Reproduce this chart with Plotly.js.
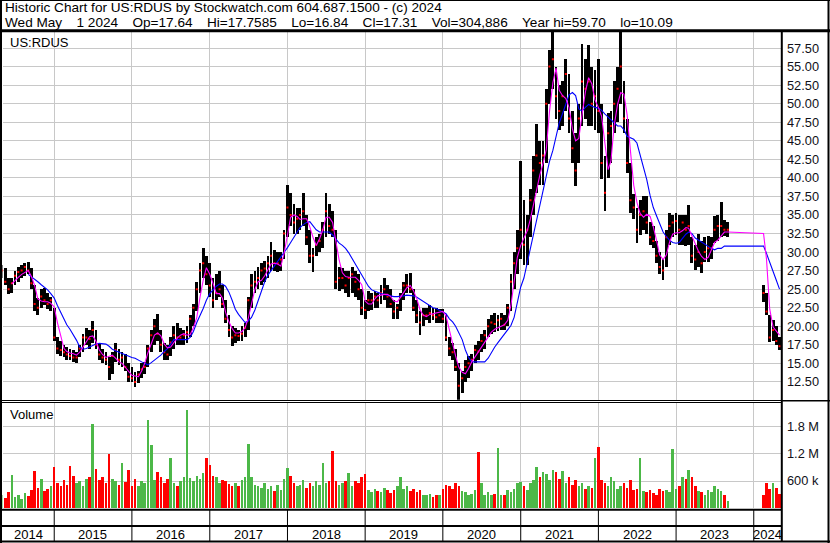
<!DOCTYPE html>
<html><head><meta charset="utf-8">
<script src="https://cdn.plot.ly/plotly-3.0.1.min.js"></script>
<style>html,body{margin:0;padding:0;background:#fff;overflow:hidden}#chart{width:830px;height:543px}</style>
</head><body><div id="chart"></div>
<script>
// ---- data (semi-monthly samples) ----
const dates = [
'2014-05-01','2014-05-16','2014-06-01','2014-06-16','2014-07-01','2014-07-16','2014-08-01','2014-08-16','2014-09-01','2014-09-16','2014-10-01','2014-10-16','2014-11-01','2014-11-16','2014-12-01','2014-12-16',
'2015-01-01','2015-01-16','2015-02-01','2015-02-16','2015-03-01','2015-03-16','2015-04-01','2015-04-16','2015-05-01','2015-05-16','2015-06-01','2015-06-16','2015-07-01','2015-07-16','2015-08-01','2015-08-16','2015-09-01','2015-09-16','2015-10-01','2015-10-16','2015-11-01','2015-11-16','2015-12-01','2015-12-16',
'2016-01-01','2016-01-16','2016-02-01','2016-02-16','2016-03-01','2016-03-16','2016-04-01','2016-04-16','2016-05-01','2016-05-16','2016-06-01','2016-06-16','2016-07-01','2016-07-16','2016-08-01','2016-08-16','2016-09-01','2016-09-16','2016-10-01','2016-10-16','2016-11-01','2016-11-16','2016-12-01','2016-12-16',
'2017-01-01','2017-01-16','2017-02-01','2017-02-16','2017-03-01','2017-03-16','2017-04-01','2017-04-16','2017-05-01','2017-05-16','2017-06-01','2017-06-16','2017-07-01','2017-07-16','2017-08-01','2017-08-16','2017-09-01','2017-09-16','2017-10-01','2017-10-16','2017-11-01','2017-11-16','2017-12-01','2017-12-16',
'2018-01-01','2018-01-16','2018-02-01','2018-02-16','2018-03-01','2018-03-16','2018-04-01','2018-04-16','2018-05-01','2018-05-16','2018-06-01','2018-06-16','2018-07-01','2018-07-16','2018-08-01','2018-08-16','2018-09-01','2018-09-16','2018-10-01','2018-10-16','2018-11-01','2018-11-16','2018-12-01','2018-12-16',
'2019-01-01','2019-01-16','2019-02-01','2019-02-16','2019-03-01','2019-03-16','2019-04-01','2019-04-16','2019-05-01','2019-05-16','2019-06-01','2019-06-16','2019-07-01','2019-07-16','2019-08-01','2019-08-16','2019-09-01','2019-09-16','2019-10-01','2019-10-16','2019-11-01','2019-11-16','2019-12-01','2019-12-16',
'2020-01-01','2020-01-16','2020-02-01','2020-02-16','2020-03-01','2020-03-16','2020-04-01','2020-04-16','2020-05-01','2020-05-16','2020-06-01','2020-06-16','2020-07-01','2020-07-16','2020-08-01','2020-08-16','2020-09-01','2020-09-16','2020-10-01','2020-10-16','2020-11-01','2020-11-16','2020-12-01','2020-12-16',
'2021-01-01','2021-01-16','2021-02-01','2021-02-16','2021-03-01','2021-03-16','2021-04-01','2021-04-16','2021-05-01','2021-05-16','2021-06-01','2021-06-16','2021-07-01','2021-07-16','2021-08-01','2021-08-16','2021-09-01','2021-09-16','2021-10-01','2021-10-16','2021-11-01','2021-11-16','2021-12-01','2021-12-16',
'2022-01-01','2022-01-16','2022-02-01','2022-02-16','2022-03-01','2022-03-16','2022-04-01','2022-04-16','2022-05-01','2022-05-16','2022-06-01','2022-06-16','2022-07-01','2022-07-16','2022-08-01','2022-08-16','2022-09-01','2022-09-16','2022-10-01','2022-10-16','2022-11-01','2022-11-16','2022-12-01','2022-12-16',
'2023-01-01','2023-01-16','2023-02-01','2023-02-16','2023-03-01','2023-03-16','2023-04-01','2023-04-16','2023-05-01','2023-05-16','2023-06-01','2023-06-16','2023-07-01','2023-07-16','2023-08-01','2023-08-16','2023-09-01',
'2024-02-16','2024-03-01','2024-03-16','2024-04-01','2024-04-16','2024-05-01'
];
const lows = [
26.5,25.5,24.3,24.5,25.5,26,26.5,26.8,27,25,22,21.5,22.5,22.8,22.3,22,
18,16.3,16,15.8,15.5,15.4,15.2,15,15.8,16.5,17.5,17,17.8,17,15.5,15,14.8,12.8,13.5,15.2,14.8,14.5,14,12.5,
12.5,11.8,12.3,13,13.5,14.5,16.5,17.5,18,16.5,15.5,15.5,16,17,17.5,17.5,17.5,17.8,18.5,20,22,24.5,26.5,25.5,
24,22.5,23.5,24,22.5,20.5,18.5,17.3,17.8,18,18,18.5,19.5,22.5,24.5,25,25.5,26,26.5,27.5,27.5,27.3,27.5,29,
32,33.5,32.5,32.5,33,33.5,31,28.5,27.3,29.5,30,30.5,32,32.5,32,25,24.7,25,24.5,24,24.5,24,23.5,21.5,
21,22,22.2,22.5,22.5,23,23.5,22.5,22.5,21,21,22,23.5,24.5,24.5,22,20.5,18.8,20,20.8,20.5,20.8,20.5,20.5,
20.5,18,16,15.5,14,10.09,11,12.5,13,14,15,15.5,16.5,17,18.5,19,19.2,19.3,19.5,19.5,20,22,25,27,
29,28.3,28.3,32,35,38,39,39,42,50,52,48,46.5,47,49,46,42,38.9,42,47,48,47,47,46.5,
46,39.8,35.5,40,42,46,47.5,50,46,40.7,35.3,34.5,31.2,32.3,33,32.5,31,30.5,28.5,27,26.3,28,31,32,
32.3,31,31,30.8,31,28.5,27.6,28,27.2,28.6,28.6,29,31.2,31.5,32,32.2,32,
23.3,21.5,17.9,18,17.5,16.84
];
const highs = [
28.2,27.8,26.5,26.5,27.5,28,28.2,28.5,28.7,27.8,25.5,23.8,25,25.2,24.5,24,
22.5,18.5,18,17.5,17.2,17,16.8,16.5,17.5,19,19.8,19.5,20.7,19.5,17.8,17,16.5,15.8,16.5,17.8,17,16.5,16.2,15,
14.5,13.8,14,15,15.2,17.5,19.5,21,21.6,19.5,17.8,17.5,18.5,20,20.5,19.8,19.5,20,21.5,23,26,28.5,30.6,29.5,
28.5,26.5,27,27.5,25.5,23.5,21.5,20,19.8,19.5,20,20.5,24,27,27.5,28,28.5,28.8,29.5,31.4,30.3,30,30,33,
39,38,36.5,36,36,38,35,33,30.5,32,32.5,34,37.9,36.5,35.5,33,28,27.8,27.5,27.5,28,27.5,27,25,
23.5,24.7,24.5,24.8,24.5,25.5,26.5,25.5,25,23.5,23,24.5,26,27,27.2,25,23.5,22,22.5,22.5,22.8,22.5,22.5,22.3,
22.3,21.5,18.5,17.8,17,15,14,15.5,16,16.3,17.5,18,19,19.5,21,21.5,21.8,21.5,21.8,21.5,23,27,30,33,
42.3,37,35,38.5,43,47.3,45,45,52,57.3,59.7,55,52.5,53,56,54,49,46,50,58.1,56,57.9,55,54.6,
56,50,43,48.8,49,53,55,59.7,53,48,42,37.8,36,37,37.5,37.5,34,33.5,31.5,30,29,33,35.3,35,
35.3,35,35,35,36.4,32,31,32.5,31.5,32,32.2,32,34.8,35,36.7,34.3,34,
25.5,24.5,21.5,20.8,20,18.5
];
const closes = [
27.5,26,25,25.8,26.8,27.3,27.5,28,27.5,25.8,23,22.5,24,23.5,23,23.5,
18.5,17,16.8,16.5,16.2,16,15.8,15.8,17,18.5,18.5,18.3,19.5,17.5,16.2,15.8,15.5,14.5,16,16.8,15.5,15.8,14.5,13.2,
13,12.5,13.5,14.2,14.5,17,18.8,20,19,17.5,16.5,16.2,17.8,18.8,18.5,18.5,18.8,19.2,21,22.5,25,27.5,28.5,27,
25.5,23.5,24.5,25,23,21,19.5,18.5,18.8,18.7,19,19.8,23.5,25.5,26,26.5,27.5,27.8,28.5,29.5,28.5,28.5,29,32.5,
36,35,34,34.5,35,35.5,32,29.5,29.5,31,31.5,33,35.5,33.5,33,26,26.5,26.5,25.5,26.5,27,26,25,22.5,
22.2,23.5,23.5,24,23.5,24.5,25,24,23,22,22.5,24,25.5,25.5,25,22.5,21.5,20.5,21.5,21.5,21.8,21.5,21.2,21.5,
21,18.5,17,16.5,14.5,12,13,14.5,15,15.5,16.8,16.6,18,18.8,20,20.5,20.3,20.8,21,20.2,22.5,26,28.5,30.5,
33,31,33,37,41,43,42,43,50,55,56,51,49,51,54,48,44,41,48,53,52,53,50,51,
49,42,38,46,47,50,52,55,48,42,37,36,33,35,35.5,34,32,31.5,29.5,28,27.5,32,33.5,34,
34.2,33,34,33,33.5,29.5,29,30,28.5,30,30.5,30.5,33,33.5,33.5,33,33,
24.5,22,18.5,19.5,18,17.31
];
// volume in thousands of shares
const volumes = [
280,220,350,740,240,300,200,330,260,400,830,450,650,380,420,500,
900,560,480,620,520,930,715,560,600,480,640,700,1870,870,620,700,560,1200,640,600,520,1000,580,850,
500,640,480,600,560,1950,1400,620,810,700,560,640,1100,560,500,600,700,2170,660,600,720,650,780,1100,
950,720,680,560,620,600,540,500,560,480,620,700,1420,700,520,480,450,560,420,500,380,520,400,650,
880,720,560,480,520,620,450,560,480,600,520,1000,560,600,1270,600,520,560,600,770,480,600,560,700,
750,400,350,420,380,360,450,400,340,400,500,700,420,480,380,420,360,400,300,280,320,250,300,280,
420,520,480,420,550,500,380,350,300,320,400,1240,560,300,350,280,320,1330,300,280,400,350,420,550,
580,480,400,550,620,900,700,800,760,620,850,800,640,830,560,680,520,620,480,560,420,500,450,1100,
1360,620,560,500,700,600,420,500,560,450,620,400,420,1100,380,350,400,330,300,420,380,400,350,1300,
420,500,700,640,850,700,500,380,350,300,400,350,480,420,380,300,150,
300,560,420,560,450,305
];
const maFast = [
null,null,null,25.7,26.2,26.6,27,27.3,27.5,26.7,25.5,23.7,23.4,23.3,23.3,23.1,
22.6,20.5,18.8,17,16.6,16.4,16.3,16.1,16.5,17.2,18,18.6,18.7,18,16.8,16.2,15.8,15.9,16.1,15.7,15.2,15,14.5,13.9,
13.4,13.3,13.2,14,15,16.4,17.7,18.8,19.1,18.7,17.6,17.1,17.2,17.8,18.4,18.8,19,18.8,18.9,19.8,21.2,23.9,26.2,27.9,
27,25.8,24.4,24.4,23.8,21.9,20.6,19.7,19.1,19.1,19.3,19.8,21.1,23,25,26,26.2,26.8,27.6,28.4,28.5,28.4,28.1,29.8,
32.3,34.7,35,34.8,34.4,34.5,34.5,33.4,32,30.9,31.8,33,34.7,34.7,34,31.4,28.9,27.2,26.7,26.6,26.6,26.6,26.2,25.6,
23.4,23,23,23.7,24.1,24.2,24.3,24.3,24,23.4,23.3,23.9,24.6,25.2,25.5,24.8,23.7,22.2,21.5,21.3,21.6,21.7,21.7,21.9,
22,21.4,19.5,17.5,16,14.5,13.8,13.6,14.3,15.2,15.9,16.6,17.3,17.9,18.6,19.2,19.6,19.8,19.9,20.2,20.8,22.8,26,29.3,
30.9,31.8,32.9,34.5,36.3,38.3,40.4,42,43.8,48.9,52.8,54.8,51.8,51.1,50.7,49.5,46.6,45,45.3,48.5,51.6,53.5,52.7,50.5,
49.5,48.3,44.5,41.1,42.3,47,49.9,51.5,51.3,48.5,43.5,39,36.7,35.2,34.7,35.1,34.8,33.4,31.6,29.6,29,29.6,31.3,32.4,
32.6,32.6,32.9,33.3,33.2,32.2,31,30.1,29.4,29,29.3,30.4,31.3,31.6,32.1,32.7,32.7,
32.5,29,22.3,19.9,19.3,18.8
];
const maSlow = [
null,null,null,null,null,null,null,null,27,26.7,26.4,26,25.6,25.3,24.9,24.4,
23.8,22.8,21.8,20.9,20.2,19.6,18.9,18.1,17.2,16.9,17,17.2,17.4,17.6,17.7,17.7,17.6,17.3,16.9,16.7,16.5,16.3,16.1,15.9,
15.8,15.7,15.4,15.2,15,14.8,15.1,15.4,15.8,16.1,16.6,17,17.6,18.2,18.2,18.2,18.2,18.2,18.5,19.3,20.5,21.4,22.4,23.5,
24.4,24.9,25.4,25.7,25.7,25.4,24.6,23.5,22.3,21.6,21,20.5,20.7,21.2,22.2,23.5,25,26,26.9,27.5,28.1,28.7,29.2,29.9,
30.6,31.3,32,32.7,33.3,33.7,34,34.1,33.6,33,32.7,32.7,32.7,32.7,32.3,31.8,31.2,30.9,30.5,29.9,29.1,28.4,27.6,26.8,
26,25.4,24.9,24.7,24.5,24.4,24.3,24.2,24.1,24,24,24,24.1,24.2,24.2,24.1,23.9,23.6,23.3,23.1,22.7,22.5,22.4,22.2,
22,21.7,21,20.6,20,19.1,18.2,16.8,15.8,15.2,15.2,15.2,15.2,15.2,15.7,16.5,17.2,17.8,18.4,18.9,19.5,20.1,21.2,23.4,
25.3,26.5,28.6,30.4,32.3,34.4,36.5,38.5,40.4,42.2,43.7,45.5,47.4,48.6,50,51.2,51.5,51.1,49.3,49,49.5,49.9,49.7,49.5,
49.4,49.1,48.6,48.2,47.8,47.4,47,47,46.5,45.6,45.4,45.2,44.7,43.2,41.3,39.8,37.6,36,34.9,33.7,32.7,32.1,31.6,31.3,
31.2,31.3,31.9,32.4,32.7,32.5,31.9,31.6,31.4,31.1,30.8,30.5,30.3,30.5,30.5,30.8,30.8,
30.8,29.8,28.7,27.5,26.2,25
];
const yearLabels = ['2014','2015','2016','2017','2018','2019','2020','2021','2022','2023','2024'];
const volTickVals = [600,1200,1800];
const volTickText = ['600 k','1.2 M','1.8 M'];
const titleLine1 = 'Historic Chart for US:RDUS by Stockwatch.com 604.687.1500 - (c) 2024';
const titleLine2 = 'Wed May  1 2024  Op=17.64  Hi=17.7585  Lo=16.84  Cl=17.31  Vol=304,886  Year hi=59.70  lo=10.09';
const symbolLabel = 'US:RDUS';
const volumeLabel = 'Volume';

// ---- layout helpers ----
const W = 830, H = 543;
const px = x => x / W, py = y => 1 - y / H;
const xRange = ['2014-05-03', '2024-05-08'];
const DAY = 864e5;
const FONT = 'Arial, "Liberation Sans", sans-serif';
const GRID = '#c8c8c8';
const wideGaps = s => s.replace(/  /g, '\u00a0\u2002\u00a0');

const ranges = highs.map((h, i) => +(h - lows[i]).toFixed(3));
const volColors = closes.map((c, i) => (i === 0 || c >= closes[i - 1]) ? '#4cb848' : '#ff0000');
const yearStarts = yearLabels.slice(1).map(y => y + '-01-01');

const traces = [
  {type: 'bar', x: dates, base: lows, y: ranges, width: 13 * DAY,
   marker: {color: '#000000', line: {width: 0}}, xaxis: 'x', yaxis: 'y', hoverinfo: 'skip'},
  {type: 'scatter', mode: 'markers', x: dates, y: closes, xaxis: 'x', yaxis: 'y',
   marker: {symbol: 'square', size: 2, color: '#ff0000', line: {width: 0}}, hoverinfo: 'skip'},
  {type: 'scatter', mode: 'lines', x: dates, y: maSlow, xaxis: 'x', yaxis: 'y',
   line: {color: '#0000ff', width: 1.1}, hoverinfo: 'skip'},
  {type: 'scatter', mode: 'lines', x: dates, y: maFast, xaxis: 'x', yaxis: 'y',
   line: {color: '#ff00ff', width: 1.1}, hoverinfo: 'skip'},
  {type: 'bar', x: dates, y: volumes, width: 12 * DAY,
   marker: {color: volColors, line: {width: 0}}, xaxis: 'x2', yaxis: 'y2', hoverinfo: 'skip'}
];

const xDomain = [px(2.5), px(781)];
const xCommon = {type: 'date', range: xRange, domain: xDomain, showticklabels: false, ticks: '',
  tickmode: 'array', tickvals: yearStarts, showgrid: true, gridcolor: GRID, gridwidth: 1,
  zeroline: false, showline: false, fixedrange: true};
const tickFont = {family: FONT, size: 12.8, color: '#101018'};

const shapes = [];
const hline = (y, x0, x1, w) => shapes.push({type: 'line', xref: 'paper', yref: 'paper', x0: px(x0), x1: px(x1), y0: py(y), y1: py(y), line: {color: '#000', width: w}, layer: 'above'});
const vline = (x, y0, y1, w) => shapes.push({type: 'line', xref: 'paper', yref: 'paper', x0: px(x), x1: px(x), y0: py(y0), y1: py(y1), line: {color: '#000', width: w}, layer: 'above'});
hline(0.5, 0, 830, 1);
vline(1, 0, 543, 2);
vline(828.5, 0, 543, 2);
hline(30.8, 0, 830, 3);
vline(781.8, 31, 542, 2);
hline(400.5, 0, 782, 1);
hline(402.5, 0, 782, 1);
hline(400.8, 782, 830, 1.5);
hline(509.8, 0, 782, 2);
hline(526, 0, 782, 2);
hline(541.5, 0, 830, 2);
yearStarts.forEach(d => shapes.push({type: 'line', xref: 'x2', yref: 'paper', x0: d, x1: d,
  y0: py(510), y1: py(541), line: {color: '#000', width: 1}, layer: 'above'}));

const annotations = [];
const label = (text, x, y, size) => annotations.push({text: text, xref: 'paper', yref: 'paper',
  x: px(x), y: py(y), xanchor: 'left', yanchor: 'middle', showarrow: false,
  font: {family: FONT, size: size, color: '#000'}});
label(titleLine1, 3, 8, 13.6);
label(wideGaps(titleLine2), 3, 22, 13.6);
label(symbolLabel, 8, 42, 13);
label(volumeLabel, 8, 414, 13);

const r0 = new Date(xRange[0]).getTime(), r1 = new Date(xRange[1]).getTime();
yearLabels.forEach((y, i) => {
  const s = Math.max(r0, new Date(y + '-01-01').getTime());
  const e = Math.min(r1, new Date((+y + 1) + '-01-01').getTime());
  annotations.push({text: y, xref: 'x2', yref: 'paper', x: new Date((s + e) / 2).toISOString().slice(0, 10),
    y: py(534), xanchor: 'center', yanchor: 'middle', showarrow: false,
    font: {family: FONT, size: 13, color: '#000'}});
});

const layout = {
  width: W, height: H, margin: {l: 0, r: 0, t: 0, b: 0}, paper_bgcolor: '#fff', plot_bgcolor: '#fff',
  showlegend: false, barmode: 'overlay', bargap: 0,
  xaxis: Object.assign({}, xCommon, {anchor: 'y'}),
  xaxis2: Object.assign({}, xCommon, {anchor: 'y2'}),
  yaxis: {domain: [py(399.8), py(31.7)], range: [10.09, 59.7], anchor: 'x', side: 'right',
    tick0: 0, dtick: 2.5, tickformat: '.2f', ticks: '', ticklabelstandoff: 5,
    showgrid: true, gridcolor: GRID, gridwidth: 1, zeroline: false, showline: false,
    tickfont: tickFont, fixedrange: true},
  yaxis2: {domain: [py(508), py(403)], range: [0, 2333], anchor: 'x2', side: 'right',
    tickmode: 'array', tickvals: volTickVals, ticktext: volTickText, ticks: '', ticklabelstandoff: 5,
    showgrid: true, gridcolor: GRID, gridwidth: 1, zeroline: false, showline: false,
    tickfont: tickFont, fixedrange: true},
  shapes: shapes, annotations: annotations
};

Plotly.newPlot('chart', traces, layout, {staticPlot: true, displayModeBar: false});
</script>
</body></html>
